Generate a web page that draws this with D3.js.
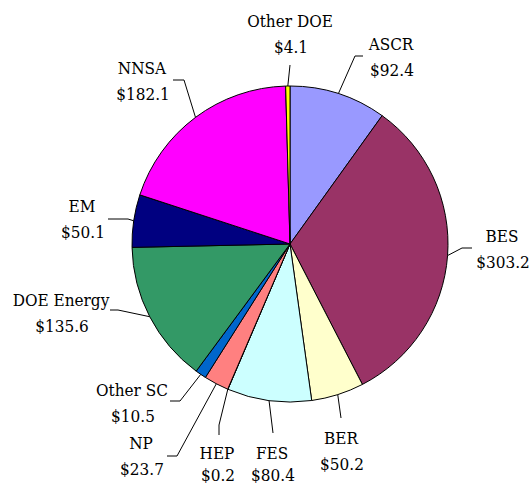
<!DOCTYPE html>
<html>
<head>
<meta charset="utf-8">
<script src="https://cdn.jsdelivr.net/npm/d3@7"></script>
<style>
  body { margin: 0; background: #fff; }
</style>
</head>
<body>
<div id="chart"></div>
<script>
// budget shares, clockwise from 12 o'clock
var names = ["ASCR", "BES", "BER", "FES", "HEP", "NP", "Other SC", "DOE Energy", "EM", "NNSA", "Other DOE"]
var values = [92.4, 303.2, 50.2, 80.4, 0.2, 23.7, 10.5, 135.6, 50.1, 182.1, 4.1]
var colors = ["#9999FF", "#993366", "#FFFFCC", "#CCFFFF", "#660066", "#FF8080", "#0066CC", "#339966", "#000080", "#FF00FF", "#FFFF00"]

// label placement: text centre x, first baseline, leader elbow and end
var labelPos = [
  {tx: 391, ty: 50, elbow: [355, 56], end: [363, 56]},
  {tx: 502, ty: 242, elbow: [462, 248], end: [472, 248]},
  {tx: 341, ty: 444, elbow: [341, 418], end: [341, 418]},
  {tx: 272, ty: 459, elbow: [273, 433], end: [273, 433]},
  {tx: 217, ty: 459, elbow: [219, 425], end: [219, 435]},
  {tx: 141, ty: 449, elbow: [177, 456], end: [167, 456]},
  {tx: 132, ty: 396, elbow: [180, 401], end: [170, 401]},
  {tx: 61, ty: 306, elbow: [118, 310], end: [110, 310]},
  {tx: 82, ty: 212, elbow: [128, 219], end: [108, 219]},
  {tx: 142, ty: 74, elbow: [184, 80], end: [173, 80]},
  {tx: 290, ty: 27, elbow: [290, 65], end: [290, 65]}
]

var width = 532, height = 485
var cx = 290, cy = 244, radius = 158

var data = names.map(function(n, i) { return {name: n, value: values[i], color: colors[i], pos: labelPos[i]} })

var svg = d3.select("#chart").append("svg")
  .attr("width", width)
  .attr("height", height)

var g = svg.append("g").attr("transform", "translate(" + cx + "," + cy + ")")

var pie = d3.pie().sort(null).value(function(d) { return d.value })
var arc = d3.arc().innerRadius(0).outerRadius(radius)
var edge = d3.arc().innerRadius(radius).outerRadius(radius)

var arcs = pie(data)

g.selectAll("path.slice")
  .data(arcs)
  .enter()
  .append("path")
    .attr("class", "slice")
    .attr("d", arc)
    .style("fill", function(d) { return d.data.color })
    .style("stroke", "#000")
    .style("stroke-width", 1)
    .style("stroke-linejoin", "round")

// leader lines
svg.selectAll("polyline.leader")
  .data(arcs)
  .enter()
  .append("polyline")
    .attr("class", "leader")
    .attr("points", function(d) {
      var c = edge.centroid(d)
      var p = d.data.pos
      return [[cx + c[0], cy + c[1]], p.elbow, p.end].map(function(q) { return q.join(",") }).join(" ")
    })
    .style("fill", "none")
    .style("stroke", "#000")
    .style("stroke-width", 1)

var labels = svg.selectAll("text.lbl")
  .data(data)
  .enter()
  .append("text")
    .attr("class", "lbl")
    .attr("text-anchor", "middle")
    .style("font-family", "'DejaVu Serif Condensed', 'DejaVu Serif'")
    .style("font-size", "17px")
    .style("fill", "#000")

labels.append("tspan")
  .attr("x", function(d) { return d.pos.tx })
  .attr("y", function(d) { return d.pos.ty })
  .text(function(d) { return d.name })

labels.append("tspan")
  .attr("x", function(d) { return d.pos.tx + 1 })
  .attr("y", function(d) { return d.pos.ty + (d.pos.ty > 455 ? 22 : 26) })
  .text(function(d) { return "$" + d.value.toFixed(1) })
</script>
</body>
</html>
